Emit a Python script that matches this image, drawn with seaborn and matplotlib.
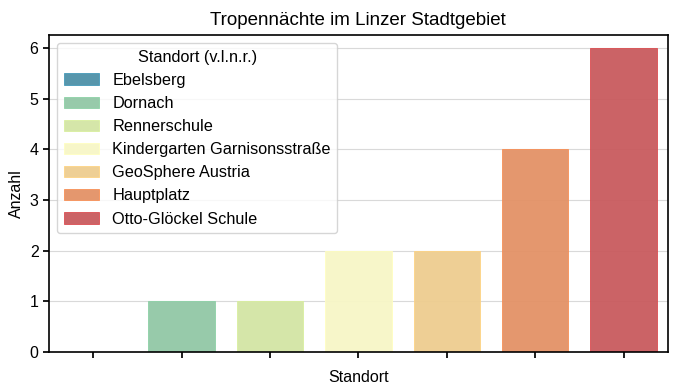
import matplotlib
matplotlib.use("Agg")
import matplotlib.pyplot as plt
import seaborn as sns
import pandas as pd
from matplotlib.patches import Patch

standorte = ["Ebelsberg", "Dornach", "Rennerschule", "Kindergarten Garnisonsstraße",
             "GeoSphere Austria", "Hauptplatz", "Otto-Glöckel Schule"]
anzahl = [0, 1, 1, 2, 2, 4, 6]

df = pd.DataFrame({"Standort": standorte, "Anzahl": anzahl})

sns.set_theme(style="ticks", rc={"text.color": "black", "axes.labelcolor": "black",
                                 "xtick.color": "black", "ytick.color": "black"})
plt.rcParams['font.family'] = ['Liberation Sans', 'DejaVu Sans']

colors = sns.color_palette("Spectral_r", len(standorte))
muted = [sns.desaturate(c, 0.75) for c in colors]

fig, ax = plt.subplots(figsize=(6.8, 3.9), dpi=100)
fig.subplots_adjust(left=0.072, right=0.982, top=0.910, bottom=0.097)
ax.yaxis.grid(True, color="#d9d9d9", linewidth=0.8)
ax.set_axisbelow(True)

sns.barplot(data=df, x="Standort", y="Anzahl", hue="Standort", palette=colors,
            alpha=0.95, width=0.75, legend=False, ax=ax)
for bar, c in zip(ax.patches, colors):
    bar.set_edgecolor(c)
    bar.set_linewidth(0.6)

ax.set_xticklabels([])
ax.set_ylim(0, 6.25)
ax.set_title("Tropennächte im Linzer Stadtgebiet", fontsize=13.5, pad=7)
ax.set_xlabel("Standort", fontsize=11.5, labelpad=5)
ax.set_ylabel("Anzahl", fontsize=11.5)
ax.tick_params(labelsize=11.5, length=4)
for s in ax.spines.values():
    s.set_color("black")
    s.set_linewidth(1.2)
    s.set_visible(True)

handles = [Patch(facecolor=c, edgecolor=e, alpha=0.95, linewidth=0.6) for c, e in zip(muted, colors)]
ax.legend(handles, standorte, title="Standort (v.l.n.r.)", loc="upper left",
          fontsize=11.7, title_fontsize=11.7, frameon=True, handlelength=2.2)

plt.savefig("out.png", dpi=100)
